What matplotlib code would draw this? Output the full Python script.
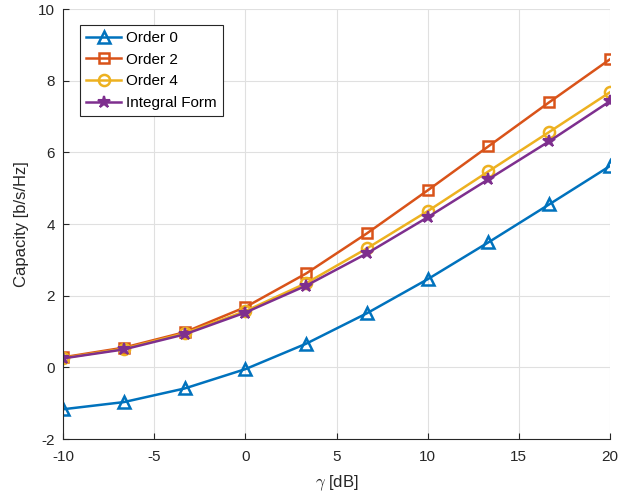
import matplotlib
matplotlib.use("Agg")
import matplotlib.pyplot as plt
import numpy as np

plt.rcParams['font.family'] = ['Liberation Sans', 'DejaVu Sans']
plt.rcParams['axes.unicode_minus'] = False
plt.rcParams['mathtext.fontset'] = 'cm'

gamma_db = [-10, -6.667, -3.333, 0, 3.333, 6.667, 10, 13.333, 16.667, 20]
order0 = [-1.17, -0.97, -0.59, -0.05, 0.66, 1.51, 2.46, 3.49, 4.55, 5.62]
order2 = [0.28, 0.55, 0.98, 1.68, 2.62, 3.74, 4.94, 6.17, 7.40, 8.60]
order4 = [0.26, 0.52, 0.95, 1.57, 2.35, 3.32, 4.36, 5.47, 6.57, 7.68]
integral = [0.25, 0.50, 0.92, 1.53, 2.28, 3.18, 4.19, 5.25, 6.31, 7.43]
labels = ['Order 0', 'Order 2', 'Order 4', 'Integral Form']

colors = [(0, 0.447, 0.741), (0.85, 0.325, 0.098), (0.929, 0.694, 0.125), (0.494, 0.184, 0.556)]
dark = (0.15, 0.15, 0.15)

fig = plt.figure(figsize=(6.29, 4.97), dpi=100)
ax = fig.add_axes([0.1002, 0.1167, 0.8696, 0.865])

ax.plot(gamma_db, order0, color=colors[0], lw=1.8, marker='^', ms=9, mfc='none', mew=1.8, label=labels[0])
ax.plot(gamma_db, order2, color=colors[1], lw=1.8, marker='s', ms=6.5, mfc='none', mew=1.8, label=labels[1])
ax.plot(gamma_db, order4, color=colors[2], lw=1.8, marker='o', ms=8, mfc='none', mew=1.8, label=labels[2])
ax.plot(gamma_db, integral, color=colors[3], lw=1.8, marker='*', ms=9, mew=1.5, label=labels[3])

ax.set_xlim(-10, 20)
ax.set_ylim(-2, 10)
ax.set_xticks([-10, -5, 0, 5, 10, 15, 20])
ax.set_yticks([-2, 0, 2, 4, 6, 8, 10])
ax.grid(True, color=(0.88, 0.88, 0.88), lw=0.8)
ax.set_axisbelow(True)
for s in ['top', 'right']:
    ax.spines[s].set_visible(False)
for s in ['left', 'bottom']:
    ax.spines[s].set_color(dark)
    ax.spines[s].set_linewidth(0.8)
ax.tick_params(direction='in', length=4, labelsize=11, colors=dark, width=0.8)
ax.tick_params(axis='x', pad=8)
ax.tick_params(axis='y', pad=6)
ax.set_xlabel(r'$\gamma$ [dB]', fontsize=12, color=dark, labelpad=7)
ax.set_ylabel('Capacity [b/s/Hz]', fontsize=12, color=dark, labelpad=6)

leg = ax.legend(loc='upper left', bbox_to_anchor=(0.031, 0.963), borderaxespad=0, fontsize=11, fancybox=False,
                edgecolor=dark, framealpha=1, handlelength=2.3,
                borderpad=0.4, labelspacing=0.5, handletextpad=0.3)
leg.get_frame().set_linewidth(0.8)

fig.savefig('out.png', dpi=100)
